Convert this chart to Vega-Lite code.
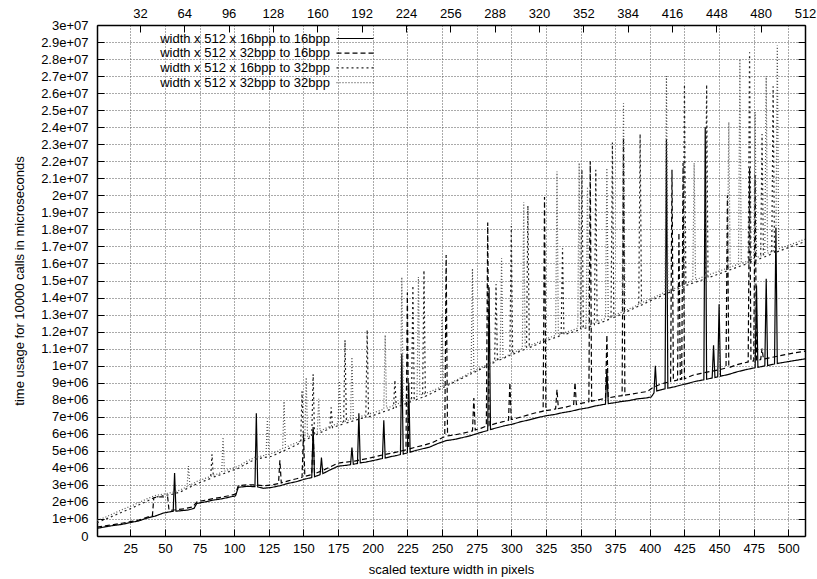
{
  "$schema": "https://vega.github.io/schema/vega-lite/v6.json",
  "width": 708,
  "height": 511,
  "autosize": "none",
  "padding": {"left": 97, "top": 25, "right": 12, "bottom": 43},
  "background": "#ffffff",
  "config": {
    "font": "Liberation Sans",
    "view": {"stroke": null},
    "axis": {
      "labelFont": "Liberation Sans", "labelFontSize": 13, "labelColor": "#000",
      "titleFont": "Liberation Sans", "titleFontSize": 13, "titleFontWeight": "normal", "titleColor": "#000",
      "domainColor": "#000", "domainWidth": 1.5,
      "tickColor": "#000", "tickSize": -7, "tickWidth": 1,
      "gridColor": "#555", "gridDash": [1, 2], "gridWidth": 1,
      "labelFlush": false, "labelOverlap": false
    },
    "legend": {
      "labelFont": "Liberation Sans", "labelFontSize": 13, "labelColor": "#000", "labelLimit": 0,
      "padding": 0, "offset": 0, "rowPadding": 0.7,
      "symbolType": "M0,0H7.4", "symbolSize": 100, "symbolStrokeWidth": 1.2,
      "labelAlign": "right", "labelOffset": -13
    }
  },
  "datasets": {
    "names": [
      {"k": 1, "name": "width x 512 x 16bpp to 16bpp"},
      {"k": 2, "name": "width x 512 x 32bpp to 16bpp"},
      {"k": 3, "name": "width x 512 x 16bpp to 32bpp"},
      {"k": 4, "name": "width x 512 x 32bpp to 32bpp"}
    ],
    "timings": [
      {"k":1,"w":1,"t":0.45e6},{"k":1,"w":7,"t":0.54e6},{"k":1,"w":13,"t":0.62e6},{"k":1,"w":19,"t":0.68e6},{"k":1,"w":25,"t":0.79e6},{"k":1,"w":31,"t":0.88e6},{"k":1,"w":37,"t":1.05e6},{"k":1,"w":43,"t":1.17e6},{"k":1,"w":49,"t":1.35e6},{"k":1,"w":55,"t":1.44e6},{"k":1,"w":56,"t":1.45e6},{"k":1,"w":57,"t":3.7e6},{"k":1,"w":58,"t":1.46e6},{"k":1,"w":61,"t":1.48e6},{"k":1,"w":67,"t":1.53e6},{"k":1,"w":71,"t":1.62e6},{"k":1,"w":73,"t":1.91e6},{"k":1,"w":79,"t":2.0e6},{"k":1,"w":85,"t":2.11e6},{"k":1,"w":91,"t":2.18e6},{"k":1,"w":97,"t":2.29e6},{"k":1,"w":101,"t":2.36e6},{"k":1,"w":103,"t":2.86e6},{"k":1,"w":109,"t":2.91e6},{"k":1,"w":115,"t":2.9e6},{"k":1,"w":116,"t":7.2e6},{"k":1,"w":117,"t":2.88e6},{"k":1,"w":121,"t":2.8e6},{"k":1,"w":127,"t":2.85e6},{"k":1,"w":133,"t":2.95e6},{"k":1,"w":139,"t":3.09e6},{"k":1,"w":145,"t":3.19e6},{"k":1,"w":151,"t":3.34e6},{"k":1,"w":156,"t":3.43e6},{"k":1,"w":157,"t":6.4e6},{"k":1,"w":158,"t":3.48e6},{"k":1,"w":162,"t":3.6e6},{"k":1,"w":163,"t":4.6e6},{"k":1,"w":164,"t":3.66e6},{"k":1,"w":169,"t":3.87e6},{"k":1,"w":175,"t":4.1e6},{"k":1,"w":181,"t":4.15e6},{"k":1,"w":184,"t":4.19e6},{"k":1,"w":185,"t":5.2e6},{"k":1,"w":186,"t":4.21e6},{"k":1,"w":189,"t":4.26e6},{"k":1,"w":190,"t":7.2e6},{"k":1,"w":191,"t":4.29e6},{"k":1,"w":195,"t":4.34e6},{"k":1,"w":201,"t":4.44e6},{"k":1,"w":207,"t":4.55e6},{"k":1,"w":208,"t":6.8e6},{"k":1,"w":209,"t":4.58e6},{"k":1,"w":213,"t":4.66e6},{"k":1,"w":217,"t":4.72e6},{"k":1,"w":220,"t":4.78e6},{"k":1,"w":221,"t":10.7e6},{"k":1,"w":222,"t":4.81e6},{"k":1,"w":225,"t":4.88e6},{"k":1,"w":226,"t":9.0e6},{"k":1,"w":227,"t":4.92e6},{"k":1,"w":231,"t":5.02e6},{"k":1,"w":235,"t":5.1e6},{"k":1,"w":241,"t":5.22e6},{"k":1,"w":247,"t":5.43e6},{"k":1,"w":253,"t":5.6e6},{"k":1,"w":259,"t":5.67e6},{"k":1,"w":265,"t":5.78e6},{"k":1,"w":271,"t":5.9e6},{"k":1,"w":277,"t":6.06e6},{"k":1,"w":283,"t":6.19e6},{"k":1,"w":284,"t":14.6e6},{"k":1,"w":285,"t":6.25e6},{"k":1,"w":289,"t":6.34e6},{"k":1,"w":295,"t":6.47e6},{"k":1,"w":301,"t":6.57e6},{"k":1,"w":307,"t":6.71e6},{"k":1,"w":313,"t":6.82e6},{"k":1,"w":319,"t":6.95e6},{"k":1,"w":325,"t":7.06e6},{"k":1,"w":331,"t":7.13e6},{"k":1,"w":337,"t":7.24e6},{"k":1,"w":343,"t":7.32e6},{"k":1,"w":349,"t":7.44e6},{"k":1,"w":355,"t":7.52e6},{"k":1,"w":361,"t":7.64e6},{"k":1,"w":368,"t":7.74e6},{"k":1,"w":369,"t":9.8e6},{"k":1,"w":370,"t":7.77e6},{"k":1,"w":375,"t":7.83e6},{"k":1,"w":379,"t":7.89e6},{"k":1,"w":385,"t":7.95e6},{"k":1,"w":391,"t":8.05e6},{"k":1,"w":397,"t":8.1e6},{"k":1,"w":401,"t":8.16e6},{"k":1,"w":403,"t":8.4e6},{"k":1,"w":404,"t":10.0e6},{"k":1,"w":405,"t":8.52e6},{"k":1,"w":409,"t":8.6e6},{"k":1,"w":411,"t":8.64e6},{"k":1,"w":412,"t":23.3e6},{"k":1,"w":413,"t":8.68e6},{"k":1,"w":418,"t":8.76e6},{"k":1,"w":421,"t":8.83e6},{"k":1,"w":427,"t":8.95e6},{"k":1,"w":433,"t":9.08e6},{"k":1,"w":439,"t":9.17e6},{"k":1,"w":440,"t":24.0e6},{"k":1,"w":441,"t":9.2e6},{"k":1,"w":445,"t":9.28e6},{"k":1,"w":446,"t":11.2e6},{"k":1,"w":447,"t":9.31e6},{"k":1,"w":449,"t":9.35e6},{"k":1,"w":450,"t":13.6e6},{"k":1,"w":451,"t":9.38e6},{"k":1,"w":457,"t":9.49e6},{"k":1,"w":463,"t":9.64e6},{"k":1,"w":469,"t":9.76e6},{"k":1,"w":476,"t":9.88e6},{"k":1,"w":477,"t":14.7e6},{"k":1,"w":478,"t":9.9e6},{"k":1,"w":483,"t":9.99e6},{"k":1,"w":484,"t":15.1e6},{"k":1,"w":485,"t":10.01e6},{"k":1,"w":490,"t":10.1e6},{"k":1,"w":491,"t":18.1e6},{"k":1,"w":492,"t":10.13e6},{"k":1,"w":497,"t":10.2e6},{"k":1,"w":503,"t":10.28e6},{"k":1,"w":509,"t":10.36e6},{"k":1,"w":512,"t":10.4e6},

      {"k":2,"w":1,"t":0.52e6},{"k":2,"w":7,"t":0.6e6},{"k":2,"w":13,"t":0.67e6},{"k":2,"w":19,"t":0.75e6},{"k":2,"w":25,"t":0.84e6},{"k":2,"w":31,"t":0.93e6},{"k":2,"w":37,"t":1.1e6},{"k":2,"w":41,"t":1.2e6},{"k":2,"w":42,"t":2.25e6},{"k":2,"w":47,"t":2.3e6},{"k":2,"w":52,"t":2.28e6},{"k":2,"w":53,"t":1.5e6},{"k":2,"w":58,"t":1.54e6},{"k":2,"w":64,"t":1.6e6},{"k":2,"w":70,"t":1.7e6},{"k":2,"w":73,"t":2.0e6},{"k":2,"w":79,"t":2.1e6},{"k":2,"w":85,"t":2.2e6},{"k":2,"w":91,"t":2.28e6},{"k":2,"w":97,"t":2.38e6},{"k":2,"w":101,"t":2.46e6},{"k":2,"w":103,"t":2.96e6},{"k":2,"w":109,"t":3.0e6},{"k":2,"w":115,"t":3.0e6},{"k":2,"w":121,"t":2.95e6},{"k":2,"w":127,"t":3.0e6},{"k":2,"w":132,"t":3.08e6},{"k":2,"w":133,"t":4.45e6},{"k":2,"w":134,"t":3.12e6},{"k":2,"w":139,"t":3.24e6},{"k":2,"w":145,"t":3.36e6},{"k":2,"w":149,"t":3.45e6},{"k":2,"w":150,"t":6.0e6},{"k":2,"w":151,"t":3.5e6},{"k":2,"w":156,"t":3.6e6},{"k":2,"w":157,"t":6.2e6},{"k":2,"w":158,"t":3.65e6},{"k":2,"w":163,"t":3.82e6},{"k":2,"w":169,"t":4.04e6},{"k":2,"w":175,"t":4.28e6},{"k":2,"w":181,"t":4.34e6},{"k":2,"w":187,"t":4.4e6},{"k":2,"w":193,"t":4.5e6},{"k":2,"w":199,"t":4.6e6},{"k":2,"w":205,"t":4.72e6},{"k":2,"w":211,"t":4.82e6},{"k":2,"w":217,"t":4.92e6},{"k":2,"w":224,"t":5.06e6},{"k":2,"w":225,"t":14.3e6},{"k":2,"w":226,"t":5.1e6},{"k":2,"w":231,"t":5.22e6},{"k":2,"w":237,"t":5.33e6},{"k":2,"w":243,"t":5.48e6},{"k":2,"w":248,"t":5.68e6},{"k":2,"w":252,"t":5.84e6},{"k":2,"w":253,"t":16.5e6},{"k":2,"w":254,"t":5.88e6},{"k":2,"w":259,"t":5.93e6},{"k":2,"w":265,"t":6.03e6},{"k":2,"w":272,"t":6.17e6},{"k":2,"w":273,"t":8.1e6},{"k":2,"w":274,"t":6.22e6},{"k":2,"w":278,"t":6.32e6},{"k":2,"w":282,"t":6.45e6},{"k":2,"w":283,"t":18.4e6},{"k":2,"w":284,"t":6.48e6},{"k":2,"w":289,"t":6.61e6},{"k":2,"w":294,"t":6.71e6},{"k":2,"w":298,"t":6.8e6},{"k":2,"w":299,"t":9.0e6},{"k":2,"w":300,"t":6.84e6},{"k":2,"w":305,"t":6.94e6},{"k":2,"w":311,"t":7.08e6},{"k":2,"w":317,"t":7.22e6},{"k":2,"w":323,"t":7.33e6},{"k":2,"w":324,"t":19.9e6},{"k":2,"w":325,"t":7.36e6},{"k":2,"w":329,"t":7.41e6},{"k":2,"w":332,"t":7.46e6},{"k":2,"w":333,"t":8.6e6},{"k":2,"w":334,"t":7.48e6},{"k":2,"w":339,"t":7.56e6},{"k":2,"w":345,"t":7.69e6},{"k":2,"w":346,"t":9.0e6},{"k":2,"w":347,"t":7.72e6},{"k":2,"w":351,"t":7.8e6},{"k":2,"w":356,"t":7.88e6},{"k":2,"w":357,"t":22.0e6},{"k":2,"w":358,"t":7.91e6},{"k":2,"w":363,"t":8.0e6},{"k":2,"w":368,"t":8.08e6},{"k":2,"w":369,"t":11.8e6},{"k":2,"w":370,"t":8.11e6},{"k":2,"w":375,"t":8.18e6},{"k":2,"w":380,"t":8.24e6},{"k":2,"w":381,"t":23.4e6},{"k":2,"w":382,"t":8.27e6},{"k":2,"w":387,"t":8.33e6},{"k":2,"w":393,"t":8.42e6},{"k":2,"w":398,"t":8.48e6},{"k":2,"w":403,"t":8.75e6},{"k":2,"w":409,"t":8.95e6},{"k":2,"w":415,"t":9.06e6},{"k":2,"w":416,"t":21.5e6},{"k":2,"w":417,"t":9.1e6},{"k":2,"w":420,"t":9.16e6},{"k":2,"w":421,"t":17.8e6},{"k":2,"w":422,"t":9.19e6},{"k":2,"w":423,"t":9.2e6},{"k":2,"w":424,"t":21.9e6},{"k":2,"w":425,"t":9.23e6},{"k":2,"w":431,"t":9.44e6},{"k":2,"w":437,"t":9.55e6},{"k":2,"w":443,"t":9.65e6},{"k":2,"w":449,"t":9.74e6},{"k":2,"w":455,"t":9.86e6},{"k":2,"w":456,"t":20.0e6},{"k":2,"w":457,"t":9.88e6},{"k":2,"w":463,"t":10.06e6},{"k":2,"w":468,"t":10.16e6},{"k":2,"w":471,"t":10.22e6},{"k":2,"w":472,"t":21.6e6},{"k":2,"w":473,"t":10.25e6},{"k":2,"w":475,"t":10.28e6},{"k":2,"w":476,"t":21.2e6},{"k":2,"w":477,"t":10.3e6},{"k":2,"w":480,"t":10.36e6},{"k":2,"w":481,"t":11.0e6},{"k":2,"w":482,"t":10.39e6},{"k":2,"w":487,"t":10.47e6},{"k":2,"w":493,"t":10.57e6},{"k":2,"w":499,"t":10.67e6},{"k":2,"w":505,"t":10.76e6},{"k":2,"w":512,"t":10.85e6},

      {"k":3,"w":1,"t":0.78e6},{"k":3,"w":7,"t":0.98e6},{"k":3,"w":13,"t":1.19e6},{"k":3,"w":19,"t":1.4e6},{"k":3,"w":25,"t":1.6e6},{"k":3,"w":31,"t":1.82e6},{"k":3,"w":37,"t":2.04e6},{"k":3,"w":43,"t":2.28e6},{"k":3,"w":49,"t":2.37e6},{"k":3,"w":55,"t":2.44e6},{"k":3,"w":61,"t":2.58e6},{"k":3,"w":67,"t":2.83e6},{"k":3,"w":73,"t":3.06e6},{"k":3,"w":79,"t":3.25e6},{"k":3,"w":83,"t":3.38e6},{"k":3,"w":84,"t":4.8e6},{"k":3,"w":85,"t":3.46e6},{"k":3,"w":91,"t":3.62e6},{"k":3,"w":97,"t":3.8e6},{"k":3,"w":103,"t":3.98e6},{"k":3,"w":109,"t":4.25e6},{"k":3,"w":115,"t":4.5e6},{"k":3,"w":121,"t":4.6e6},{"k":3,"w":127,"t":4.68e6},{"k":3,"w":133,"t":4.9e6},{"k":3,"w":139,"t":5.12e6},{"k":3,"w":145,"t":5.35e6},{"k":3,"w":148,"t":5.5e6},{"k":3,"w":149,"t":8.5e6},{"k":3,"w":150,"t":5.58e6},{"k":3,"w":156,"t":5.83e6},{"k":3,"w":157,"t":9.5e6},{"k":3,"w":158,"t":5.9e6},{"k":3,"w":163,"t":6.1e6},{"k":3,"w":169,"t":6.3e6},{"k":3,"w":170,"t":7.55e6},{"k":3,"w":171,"t":6.36e6},{"k":3,"w":175,"t":6.48e6},{"k":3,"w":179,"t":6.58e6},{"k":3,"w":180,"t":11.5e6},{"k":3,"w":181,"t":6.64e6},{"k":3,"w":187,"t":6.78e6},{"k":3,"w":191,"t":6.89e6},{"k":3,"w":195,"t":6.96e6},{"k":3,"w":196,"t":12.1e6},{"k":3,"w":197,"t":6.99e6},{"k":3,"w":201,"t":7.1e6},{"k":3,"w":207,"t":7.27e6},{"k":3,"w":211,"t":7.38e6},{"k":3,"w":215,"t":7.5e6},{"k":3,"w":216,"t":9.15e6},{"k":3,"w":217,"t":7.56e6},{"k":3,"w":223,"t":7.74e6},{"k":3,"w":228,"t":7.9e6},{"k":3,"w":229,"t":14.7e6},{"k":3,"w":230,"t":7.96e6},{"k":3,"w":236,"t":8.15e6},{"k":3,"w":237,"t":15.6e6},{"k":3,"w":238,"t":8.2e6},{"k":3,"w":243,"t":8.4e6},{"k":3,"w":249,"t":8.64e6},{"k":3,"w":255,"t":8.88e6},{"k":3,"w":261,"t":9.12e6},{"k":3,"w":267,"t":9.36e6},{"k":3,"w":273,"t":9.6e6},{"k":3,"w":279,"t":9.84e6},{"k":3,"w":285,"t":10.08e6},{"k":3,"w":288,"t":10.2e6},{"k":3,"w":289,"t":14.8e6},{"k":3,"w":290,"t":10.28e6},{"k":3,"w":295,"t":10.45e6},{"k":3,"w":299,"t":10.6e6},{"k":3,"w":300,"t":18.2e6},{"k":3,"w":301,"t":10.66e6},{"k":3,"w":306,"t":10.84e6},{"k":3,"w":311,"t":11.0e6},{"k":3,"w":312,"t":19.4e6},{"k":3,"w":313,"t":11.06e6},{"k":3,"w":318,"t":11.23e6},{"k":3,"w":324,"t":11.43e6},{"k":3,"w":330,"t":11.6e6},{"k":3,"w":336,"t":11.78e6},{"k":3,"w":337,"t":16.9e6},{"k":3,"w":338,"t":11.82e6},{"k":3,"w":343,"t":11.94e6},{"k":3,"w":350,"t":12.12e6},{"k":3,"w":351,"t":21.5e6},{"k":3,"w":352,"t":12.16e6},{"k":3,"w":356,"t":12.27e6},{"k":3,"w":360,"t":12.4e6},{"k":3,"w":361,"t":21.5e6},{"k":3,"w":362,"t":12.46e6},{"k":3,"w":367,"t":12.6e6},{"k":3,"w":372,"t":12.77e6},{"k":3,"w":373,"t":23.1e6},{"k":3,"w":374,"t":12.83e6},{"k":3,"w":379,"t":13.0e6},{"k":3,"w":385,"t":13.23e6},{"k":3,"w":392,"t":13.5e6},{"k":3,"w":393,"t":23.6e6},{"k":3,"w":394,"t":13.56e6},{"k":3,"w":399,"t":13.76e6},{"k":3,"w":405,"t":13.98e6},{"k":3,"w":411,"t":14.2e6},{"k":3,"w":417,"t":14.4e6},{"k":3,"w":424,"t":14.62e6},{"k":3,"w":425,"t":26.5e6},{"k":3,"w":426,"t":14.7e6},{"k":3,"w":431,"t":14.85e6},{"k":3,"w":436,"t":14.98e6},{"k":3,"w":440,"t":15.1e6},{"k":3,"w":441,"t":26.5e6},{"k":3,"w":442,"t":15.16e6},{"k":3,"w":447,"t":15.3e6},{"k":3,"w":453,"t":15.48e6},{"k":3,"w":459,"t":15.66e6},{"k":3,"w":465,"t":15.84e6},{"k":3,"w":471,"t":16.0e6},{"k":3,"w":472,"t":28.4e6},{"k":3,"w":473,"t":16.08e6},{"k":3,"w":477,"t":16.2e6},{"k":3,"w":480,"t":16.3e6},{"k":3,"w":481,"t":23.6e6},{"k":3,"w":482,"t":16.36e6},{"k":3,"w":488,"t":16.56e6},{"k":3,"w":489,"t":26.4e6},{"k":3,"w":490,"t":16.62e6},{"k":3,"w":495,"t":16.78e6},{"k":3,"w":501,"t":16.96e6},{"k":3,"w":507,"t":17.14e6},{"k":3,"w":512,"t":17.28e6},

      {"k":4,"w":1,"t":0.92e6},{"k":4,"w":7,"t":1.1e6},{"k":4,"w":13,"t":1.32e6},{"k":4,"w":19,"t":1.54e6},{"k":4,"w":25,"t":1.74e6},{"k":4,"w":31,"t":1.95e6},{"k":4,"w":37,"t":2.18e6},{"k":4,"w":43,"t":2.38e6},{"k":4,"w":49,"t":2.46e6},{"k":4,"w":55,"t":2.55e6},{"k":4,"w":61,"t":2.7e6},{"k":4,"w":66,"t":2.9e6},{"k":4,"w":67,"t":4.1e6},{"k":4,"w":68,"t":2.98e6},{"k":4,"w":73,"t":3.2e6},{"k":4,"w":79,"t":3.38e6},{"k":4,"w":85,"t":3.56e6},{"k":4,"w":91,"t":3.73e6},{"k":4,"w":92,"t":5.8e6},{"k":4,"w":93,"t":3.8e6},{"k":4,"w":97,"t":3.93e6},{"k":4,"w":103,"t":4.1e6},{"k":4,"w":109,"t":4.38e6},{"k":4,"w":115,"t":4.62e6},{"k":4,"w":119,"t":4.68e6},{"k":4,"w":123,"t":4.75e6},{"k":4,"w":124,"t":6.9e6},{"k":4,"w":125,"t":4.8e6},{"k":4,"w":130,"t":4.92e6},{"k":4,"w":135,"t":5.15e6},{"k":4,"w":136,"t":7.9e6},{"k":4,"w":137,"t":5.2e6},{"k":4,"w":142,"t":5.38e6},{"k":4,"w":147,"t":5.55e6},{"k":4,"w":151,"t":5.72e6},{"k":4,"w":152,"t":9.3e6},{"k":4,"w":153,"t":5.8e6},{"k":4,"w":157,"t":5.98e6},{"k":4,"w":160,"t":6.1e6},{"k":4,"w":161,"t":8.05e6},{"k":4,"w":162,"t":6.16e6},{"k":4,"w":167,"t":6.36e6},{"k":4,"w":171,"t":6.5e6},{"k":4,"w":175,"t":6.6e6},{"k":4,"w":176,"t":9.1e6},{"k":4,"w":177,"t":6.65e6},{"k":4,"w":181,"t":6.76e6},{"k":4,"w":184,"t":6.85e6},{"k":4,"w":185,"t":10.5e6},{"k":4,"w":186,"t":6.9e6},{"k":4,"w":191,"t":7.02e6},{"k":4,"w":197,"t":7.16e6},{"k":4,"w":203,"t":7.3e6},{"k":4,"w":208,"t":7.45e6},{"k":4,"w":209,"t":11.8e6},{"k":4,"w":210,"t":7.5e6},{"k":4,"w":215,"t":7.66e6},{"k":4,"w":220,"t":7.82e6},{"k":4,"w":221,"t":15.2e6},{"k":4,"w":222,"t":7.88e6},{"k":4,"w":227,"t":8.03e6},{"k":4,"w":232,"t":8.2e6},{"k":4,"w":233,"t":15.2e6},{"k":4,"w":234,"t":8.26e6},{"k":4,"w":239,"t":8.4e6},{"k":4,"w":244,"t":8.56e6},{"k":4,"w":249,"t":8.74e6},{"k":4,"w":250,"t":13.0e6},{"k":4,"w":251,"t":8.8e6},{"k":4,"w":256,"t":8.98e6},{"k":4,"w":262,"t":9.22e6},{"k":4,"w":267,"t":9.44e6},{"k":4,"w":271,"t":9.62e6},{"k":4,"w":272,"t":15.7e6},{"k":4,"w":273,"t":9.68e6},{"k":4,"w":278,"t":9.88e6},{"k":4,"w":284,"t":10.12e6},{"k":4,"w":292,"t":10.43e6},{"k":4,"w":293,"t":16.3e6},{"k":4,"w":294,"t":10.47e6},{"k":4,"w":299,"t":10.66e6},{"k":4,"w":304,"t":10.86e6},{"k":4,"w":308,"t":11.0e6},{"k":4,"w":309,"t":19.6e6},{"k":4,"w":310,"t":11.06e6},{"k":4,"w":316,"t":11.27e6},{"k":4,"w":322,"t":11.46e6},{"k":4,"w":328,"t":11.66e6},{"k":4,"w":332,"t":11.78e6},{"k":4,"w":333,"t":21.4e6},{"k":4,"w":334,"t":11.82e6},{"k":4,"w":339,"t":11.96e6},{"k":4,"w":344,"t":12.08e6},{"k":4,"w":348,"t":12.2e6},{"k":4,"w":349,"t":21.9e6},{"k":4,"w":350,"t":12.24e6},{"k":4,"w":354,"t":12.34e6},{"k":4,"w":355,"t":20.5e6},{"k":4,"w":356,"t":12.4e6},{"k":4,"w":361,"t":12.55e6},{"k":4,"w":365,"t":12.68e6},{"k":4,"w":368,"t":12.77e6},{"k":4,"w":369,"t":21.6e6},{"k":4,"w":370,"t":12.82e6},{"k":4,"w":375,"t":12.98e6},{"k":4,"w":380,"t":13.15e6},{"k":4,"w":381,"t":25.4e6},{"k":4,"w":382,"t":13.22e6},{"k":4,"w":387,"t":13.4e6},{"k":4,"w":394,"t":13.68e6},{"k":4,"w":400,"t":13.9e6},{"k":4,"w":406,"t":14.12e6},{"k":4,"w":411,"t":14.32e6},{"k":4,"w":412,"t":27.0e6},{"k":4,"w":413,"t":14.38e6},{"k":4,"w":418,"t":14.54e6},{"k":4,"w":424,"t":14.75e6},{"k":4,"w":431,"t":15.0e6},{"k":4,"w":432,"t":21.9e6},{"k":4,"w":433,"t":15.04e6},{"k":4,"w":438,"t":15.2e6},{"k":4,"w":444,"t":15.38e6},{"k":4,"w":450,"t":15.55e6},{"k":4,"w":456,"t":15.72e6},{"k":4,"w":457,"t":24.3e6},{"k":4,"w":458,"t":15.78e6},{"k":4,"w":462,"t":15.9e6},{"k":4,"w":464,"t":15.96e6},{"k":4,"w":465,"t":28.0e6},{"k":4,"w":466,"t":16.02e6},{"k":4,"w":470,"t":16.12e6},{"k":4,"w":475,"t":16.28e6},{"k":4,"w":476,"t":24.9e6},{"k":4,"w":477,"t":16.34e6},{"k":4,"w":480,"t":16.44e6},{"k":4,"w":483,"t":16.54e6},{"k":4,"w":484,"t":27.0e6},{"k":4,"w":485,"t":16.6e6},{"k":4,"w":491,"t":16.8e6},{"k":4,"w":492,"t":28.8e6},{"k":4,"w":493,"t":16.86e6},{"k":4,"w":498,"t":17.0e6},{"k":4,"w":504,"t":17.18e6},{"k":4,"w":509,"t":17.34e6},{"k":4,"w":512,"t":17.42e6}
    ]
  },
  "data": {"name": "timings"},
  "transform": [
    {"lookup": "k", "from": {"data": {"name": "names"}, "key": "k", "fields": ["name"]}}
  ],
  "resolve": {"axis": {"x": "independent", "y": "independent"}},
  "layer": [
    {
      "mark": {"type": "line", "strokeWidth": 1.2},
      "encoding": {
        "x": {
          "field": "w", "type": "quantitative",
          "scale": {"domain": [1, 512], "nice": false, "zero": false},
          "axis": {
            "orient": "bottom", "title": "scaled texture width in pixels",
            "values": [25, 50, 75, 100, 125, 150, 175, 200, 225, 250, 275, 300, 325, 350, 375, 400, 425, 450, 475, 500],
            "grid": true, "labelPadding": 13, "titlePadding": 8
          }
        },
        "y": {
          "field": "t", "type": "quantitative",
          "scale": {"domain": [0, 30000000], "nice": false},
          "axis": {
            "orient": "left", "title": "time usage for 10000 calls in microseconds",
            "values": [0, 1e6, 2e6, 3e6, 4e6, 5e6, 6e6, 7e6, 8e6, 9e6, 10e6, 11e6, 12e6, 13e6, 14e6, 15e6, 16e6, 17e6, 18e6, 19e6, 20e6, 21e6, 22e6, 23e6, 24e6, 25e6, 26e6, 27e6, 28e6, 29e6, 30e6],
            "labelExpr": "datum.value == 0 ? '0' : replace(format(datum.value, '.2~e'), 'e+', 'e+0')",
            "grid": true, "labelPadding": 16, "titlePadding": 14
          }
        },
        "color": {
          "field": "name", "type": "nominal",
          "scale": {
            "domain": ["width x 512 x 16bpp to 16bpp", "width x 512 x 32bpp to 16bpp", "width x 512 x 16bpp to 32bpp", "width x 512 x 32bpp to 32bpp"],
            "range": ["#000000", "#000000", "#222222", "#555555"]
          },
          "legend": {"title": null, "orient": "none", "legendX": 233, "legendY": 7}
        },
        "strokeDash": {
          "field": "name", "type": "nominal",
          "scale": {
            "domain": ["width x 512 x 16bpp to 16bpp", "width x 512 x 32bpp to 16bpp", "width x 512 x 16bpp to 32bpp", "width x 512 x 32bpp to 32bpp"],
            "range": [[1, 0], [5, 3], [2, 3], [1, 2]]
          },
          "legend": {"title": null, "orient": "none", "legendX": 233, "legendY": 7}
        }
      }
    },
    {
      "mark": {"type": "point", "opacity": 0},
      "encoding": {
        "x": {
          "field": "w", "type": "quantitative",
          "axis": {
            "orient": "top", "title": null,
            "values": [32, 64, 96, 128, 160, 192, 224, 256, 288, 320, 352, 384, 416, 448, 480, 512],
            "grid": false, "labelPadding": 12
          }
        },
        "y": {
          "field": "t", "type": "quantitative",
          "axis": {
            "orient": "right", "title": null, "labels": false, "grid": false,
            "values": [0, 1e6, 2e6, 3e6, 4e6, 5e6, 6e6, 7e6, 8e6, 9e6, 10e6, 11e6, 12e6, 13e6, 14e6, 15e6, 16e6, 17e6, 18e6, 19e6, 20e6, 21e6, 22e6, 23e6, 24e6, 25e6, 26e6, 27e6, 28e6, 29e6, 30e6]
          }
        }
      }
    }
  ]
}
